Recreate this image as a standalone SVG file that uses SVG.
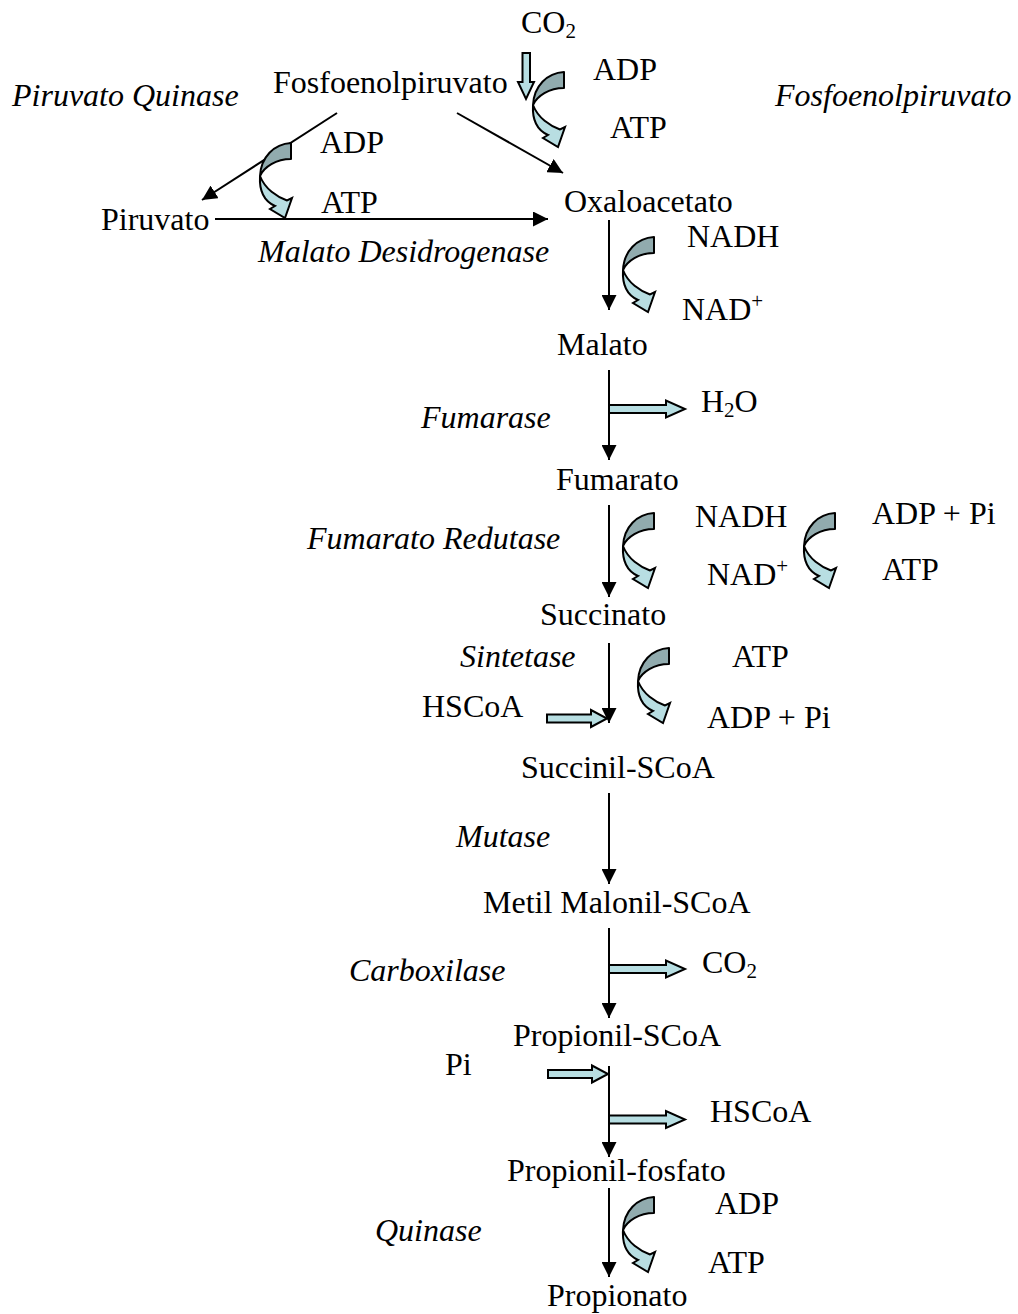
<svg xmlns="http://www.w3.org/2000/svg" width="1018" height="1314" viewBox="0 0 1018 1314">
<style>
text{font-family:"Liberation Serif","Times New Roman",serif;font-size:32px;fill:#000}
.it{font-style:italic}
.sub{font-size:21px}
.ln{stroke:#000;stroke-width:2;fill:none}
.blk{fill:#B7DEE2;stroke:#000;stroke-width:2;stroke-linejoin:miter}
.dk{fill:#91ABAE;stroke:#000;stroke-width:2;stroke-linejoin:round}
.lt{fill:#B8DEE2;stroke:#000;stroke-width:2;stroke-linejoin:miter}
</style>
<defs>
<marker id="ah" markerUnits="userSpaceOnUse" viewBox="0 0 15 15" refX="15" refY="7.5" markerWidth="15" markerHeight="15" orient="auto">
<path d="M0,0 L15,7.5 L0,15 Z" fill="#000"/>
</marker>
<g id="curv">
<path class="lt" d="M0,33 C-1,50 6,59 15,63 L10,66 L25,75 L32,55 L27,57.5 C17,54 5,46 0,33 Z"/>
<path class="dk" d="M31,0 C14,1 1,14 0,33 C4,24 16,16 31,16 Z"/>
</g>
</defs>
<g id="connectors">
<line class="ln" x1="337" y1="113" x2="202" y2="200" marker-end="url(#ah)"/>
<line class="ln" x1="457" y1="113" x2="563" y2="173" marker-end="url(#ah)"/>
<line class="ln" x1="215" y1="219" x2="548" y2="219" marker-end="url(#ah)"/>
<line class="ln" x1="609" y1="220" x2="609" y2="310" marker-end="url(#ah)"/>
<line class="ln" x1="609" y1="370" x2="609" y2="460" marker-end="url(#ah)"/>
<line class="ln" x1="609" y1="505" x2="609" y2="597" marker-end="url(#ah)"/>
<line class="ln" x1="609" y1="643" x2="609" y2="723" marker-end="url(#ah)"/>
<line class="ln" x1="609" y1="793" x2="609" y2="884" marker-end="url(#ah)"/>
<line class="ln" x1="609" y1="928" x2="609" y2="1018" marker-end="url(#ah)"/>
<line class="ln" x1="609" y1="1066" x2="609" y2="1157" marker-end="url(#ah)"/>
<line class="ln" x1="609" y1="1188" x2="609" y2="1277" marker-end="url(#ah)"/>
<!-- block arrows -->
<path class="blk" d="M522.5,53 H530 V82 H534 L526,99 L518,82 H522.5 Z"/>
<path class="blk" d="M609,405 H666 V400.5 L685,409 L666,417.5 V413 H609 Z"/>
<path class="blk" d="M547,714.5 H591 V710 L607,718.5 L591,727 V722.5 H547 Z"/>
<path class="blk" d="M609,965 H666 V960.5 L685,969 L666,977.5 V973 H609 Z"/>
<path class="blk" d="M548,1070 H592 V1065.5 L608,1074 L592,1082.5 V1078 H548 Z"/>
<path class="blk" d="M609,1115.5 H666 V1111 L685,1119.5 L666,1128 V1123.5 H609 Z"/>
<!-- curved arrows -->
<use href="#curv" x="533" y="72"/>
<use href="#curv" x="260" y="143"/>
<use href="#curv" x="623" y="237"/>
<use href="#curv" x="623" y="513"/>
<use href="#curv" x="804" y="513"/>
<use href="#curv" x="638" y="648"/>
<use href="#curv" x="623" y="1197"/>
</g>
<g id="labels">
<text x="521" y="33">CO<tspan class="sub" dy="5">2</tspan></text>
<text x="593" y="80">ADP</text>
<text x="610" y="138">ATP</text>
<text class="it" x="12" y="106">Piruvato Quinase</text>
<text class="it" x="775" y="106">Fosfoenolpiruvato</text>
<text x="320" y="153">ADP</text>
<text x="321" y="213">ATP</text>
<text class="it" x="258" y="262">Malato Desidrogenase</text>
<text x="687" y="247">NADH</text>
<text x="682" y="320">NAD<tspan class="sub" dy="-12">+</tspan></text>
<text class="it" x="421" y="428">Fumarase</text>
<text x="701" y="412">H<tspan class="sub" dy="5">2</tspan><tspan dy="-5">O</tspan></text>
<text class="it" x="307" y="549">Fumarato Redutase</text>
<text x="695" y="527">NADH</text>
<text x="707" y="585">NAD<tspan class="sub" dy="-12">+</tspan></text>
<text x="872" y="524">ADP + Pi</text>
<text x="882" y="580">ATP</text>
<text class="it" x="460" y="667">Sintetase</text>
<text x="732" y="667">ATP</text>
<text x="422" y="717">HSCoA</text>
<text x="707" y="728">ADP + Pi</text>
<text class="it" x="456" y="847">Mutase</text>
<text class="it" x="349" y="981">Carboxilase</text>
<text x="702" y="973">CO<tspan class="sub" dy="5">2</tspan></text>
<text x="445" y="1075">Pi</text>
<text x="710" y="1122">HSCoA</text>
<text class="it" x="375" y="1241">Quinase</text>
<text x="715" y="1214">ADP</text>
<text x="708" y="1273">ATP</text>
</g>
<g id="n-fosfoenolpiruvato"><text x="273" y="93">Fosfoenolpiruvato</text></g>
<g id="n-piruvato"><text x="101" y="230">Piruvato</text></g>
<g id="n-oxaloacetato"><text x="564" y="212">Oxaloacetato</text></g>
<g id="n-malato"><text x="557" y="355">Malato</text></g>
<g id="n-fumarato"><text x="556" y="490">Fumarato</text></g>
<g id="n-succinato"><text x="540" y="625">Succinato</text></g>
<g id="n-succinil"><text x="521" y="778">Succinil-SCoA</text></g>
<g id="n-metilmalonil"><text x="483" y="913">Metil Malonil-SCoA</text></g>
<g id="n-propionilscoa"><text x="513" y="1046">Propionil-SCoA</text></g>
<g id="n-propionilfosfato"><text x="507" y="1181">Propionil-fosfato</text></g>
<g id="n-propionato"><text x="547" y="1306">Propionato</text></g>
</svg>
